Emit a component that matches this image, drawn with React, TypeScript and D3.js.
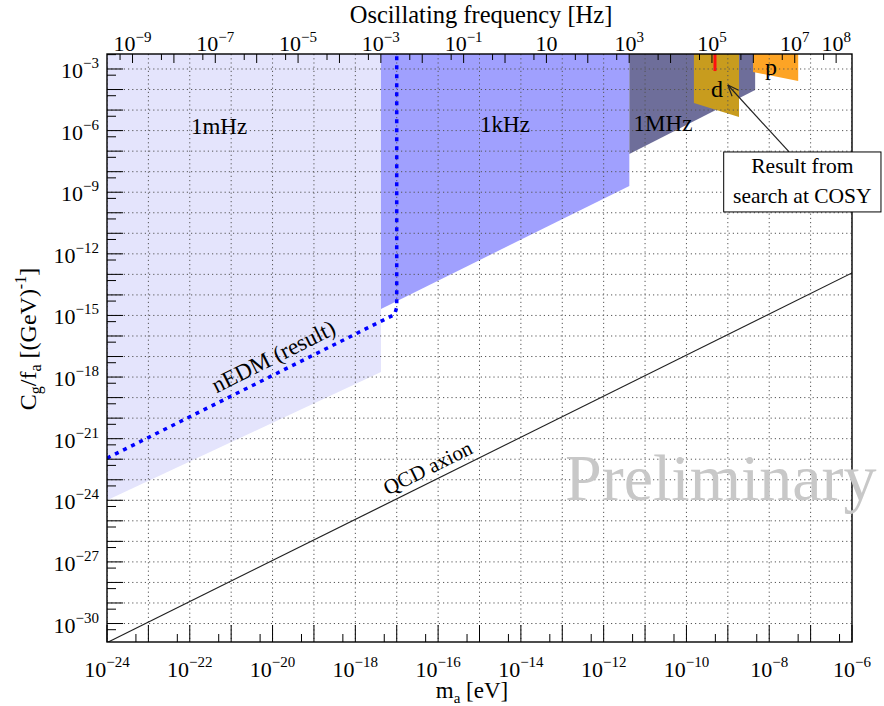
import React from "react";
import * as d3 from "d3";

const WIDTH = 884;
const HEIGHT = 706;
const frame = { left: 107, right: 852, top: 54, bottom: 642 };
const FONT = "'Liberation Serif', 'Times New Roman', Times, serif";

// every value below is log10: m_a in eV, C_g/f_a in 1/GeV
const massDomain = [-24, -6];
const couplingDomain = [-30.9, -2.27];
const evToHz = 2.418e14;

const massTickExps = [-24, -22, -20, -18, -16, -14, -12, -10, -8, -6];
const couplingTickExps = [-3, -6, -9, -12, -15, -18, -21, -24, -27, -30];
const freqTickExps = [-9, -7, -5, -3, -1, 1, 3, 5, 7, 8];

const TOP = couplingDomain[1];

const mHzRegion = [[-24, TOP], [-24, -24.0], [-17.38, -17.75], [-17.38, TOP]];
const kHzRegion = [[-17.38, TOP], [-17.38, -14.68], [-11.38, -8.7], [-11.38, TOP]];
const MHzRegion = [[-11.38, TOP], [-11.38, -7.14], [-8.34, -4.02], [-8.34, TOP]];
const deuteronRegion = [[-9.82, TOP], [-9.82, -4.66], [-8.73, -5.34], [-8.73, TOP]];
const protonRegion = [[-8.39, TOP], [-8.39, -3.15], [-7.3, -3.58], [-7.3, TOP]];
const cosyResult = [[-9.31, TOP], [-9.31, -3.1]];

const nedmLimit = [[-24, -21.95], [-17.05, -14.95], [-17.0, -14.6], [-17.0, TOP]];
const qcdAxion = [[-24.2, -31.13], [-6, -12.93]];

const sup = (e: number) => (e < 0 ? "\u2212" + -e : String(e));

export default function App() {
  const x = d3.scaleLog().domain(massDomain.map((v) => 10 ** v)).range([frame.left, frame.right]);
  const y = d3.scaleLog().domain(couplingDomain.map((v) => 10 ** v)).range([frame.bottom, frame.top]);
  const xf = d3
    .scaleLog()
    .domain(massDomain.map((v) => 10 ** v * evToHz))
    .range([frame.left, frame.right]);

  const pt = (d: number[]): [number, number] => [x(10 ** d[0]), y(10 ** d[1])];
  const line = d3.line<number[]>().x((d) => pt(d)[0]).y((d) => pt(d)[1]);
  const area = (pts: number[][]) => line(pts) + "Z";

  // ticks
  const decades = (a: number, b: number) => d3.range(Math.ceil(a), Math.floor(b) + 1);
  const inX = (v: number) => v >= frame.left - 0.5 && v <= frame.right + 0.5;
  const inY = (v: number) => v >= frame.top - 0.5 && v <= frame.bottom + 0.5;

  const xMajor = decades(massDomain[0], massDomain[1]).map((e) => x(10 ** e));
  const xMinor = decades(massDomain[0] - 1, massDomain[1]).map((e) => x(5 * 10 ** e)).filter(inX);
  const yMajor = decades(couplingDomain[0], couplingDomain[1]).map((e) => y(10 ** e));
  const yMinor = decades(couplingDomain[0] - 1, couplingDomain[1]).map((e) => y(5 * 10 ** e)).filter(inY);
  const fLo = Math.log10(10 ** massDomain[0] * evToHz);
  const fHi = Math.log10(10 ** massDomain[1] * evToHz);
  const fMajor = decades(fLo, fHi).map((e) => xf(10 ** e));
  const fMinor = decades(fLo - 1, fHi).map((e) => xf(5 * 10 ** e)).filter(inX);

  // rotated labels along lines
  const [q0, q1] = qcdAxion.map(pt);
  const qAngle = (Math.atan2(q1[1] - q0[1], q1[0] - q0[0]) * 180) / Math.PI;
  const qAt = (px: number): [number, number] => [px, q0[1] + ((px - q0[0]) * (q1[1] - q0[1])) / (q1[0] - q0[0])];
  const [n0, n1] = nedmLimit.slice(0, 2).map(pt);
  const nAngle = (Math.atan2(n1[1] - n0[1], n1[0] - n0[0]) * 180) / Math.PI;
  const nAt = (px: number): [number, number] => [px, n0[1] + ((px - n0[0]) * (n1[1] - n0[1])) / (n1[0] - n0[0])];
  const qLab = qAt(x(10 ** -16.1));
  const nLab = nAt(x(10 ** -19.8));

  // annotation (in data coords)
  const tip = pt([-9.0, -3.78]);
  const tail = pt([-7.52, -7.04]);
  const boxA = pt([-9.1, -7.04]);
  const boxB = pt([-5.3, -9.96]);
  const ang = Math.atan2(tail[1] - tip[1], tail[0] - tip[0]);
  const head = [ang - 0.38, ang + 0.38].map((a) => [tip[0] + 12 * Math.cos(a), tip[1] + 12 * Math.sin(a)]);

  return (
    <svg
      width={WIDTH}
      height={HEIGHT}
      style={{ position: "absolute", left: 0, top: 0, background: "#fff" }}
      fontFamily={FONT}
    >
      <defs>
        <clipPath id="frame">
          <rect x={frame.left} y={frame.top} width={frame.right - frame.left} height={frame.bottom - frame.top} />
        </clipPath>
      </defs>
      <rect width={WIDTH} height={HEIGHT} fill="#fff" />

      <g clipPath="url(#frame)">
        <path d={area(mHzRegion)} fill="#e4e4fc" />
        <path d={area(kHzRegion)} fill="#a0a0fe" />
        <path d={area(MHzRegion)} fill="#6e6e9a" />
        <path d={area(deuteronRegion)} fill="#c89c1e" />
        <path d={area(protonRegion)} fill="#fda425" />
        <path d={line(cosyResult) || ""} stroke="#ff1010" strokeWidth={3} />

        {/* grid */}
        {xMajor.map((v, i) => (
          <line key={"gx" + i} x1={v} x2={v} y1={frame.top} y2={frame.bottom} stroke="#555" strokeWidth={1} strokeDasharray="1.2,3" />
        ))}
        {yMajor.map((v, i) => (
          <line key={"gy" + i} x1={frame.left} x2={frame.right} y1={v} y2={v} stroke="#555" strokeWidth={1} strokeDasharray="1.2,3" />
        ))}

        <path d={line(qcdAxion) || ""} fill="none" stroke="#222" strokeWidth={1.2} />
        <path d={line(nedmLimit) || ""} fill="none" stroke="#0000ff" strokeWidth={3.5} strokeDasharray="4,5" />
      </g>

      {/* ticks */}
      {xMajor.map((v, i) => (
        <line key={"tx" + i} x1={v} x2={v} y1={frame.bottom} y2={frame.bottom - 17} stroke="#000" />
      ))}
      {xMinor.map((v, i) => (
        <line key={"tx5" + i} x1={v} x2={v} y1={frame.bottom} y2={frame.bottom - 8} stroke="#000" />
      ))}
      {yMajor.map((v, i) => (
        <line key={"ty" + i} x1={frame.left} x2={frame.left + 16} y1={v} y2={v} stroke="#000" />
      ))}
      {yMinor.map((v, i) => (
        <line key={"ty5" + i} x1={frame.left} x2={frame.left + 9} y1={v} y2={v} stroke="#000" />
      ))}
      {fMajor.map((v, i) => (
        <line key={"tf" + i} x1={v} x2={v} y1={frame.top} y2={frame.top + 9} stroke="#000" />
      ))}
      {fMinor.map((v, i) => (
        <line key={"tf5" + i} x1={v} x2={v} y1={frame.top} y2={frame.top + 6} stroke="#000" />
      ))}

      <rect
        x={frame.left}
        y={frame.top}
        width={frame.right - frame.left}
        height={frame.bottom - frame.top}
        fill="none"
        stroke="#000"
        strokeWidth={1.4}
      />

      {/* tick labels */}
      {massTickExps.map((e) => (
        <text key={"lx" + e} x={x(10 ** e)} y={677} textAnchor="middle" fontSize={22}>
          10<tspan dy={-10} fontSize={15}>{sup(e)}</tspan>
        </text>
      ))}
      {couplingTickExps.map((e) => (
        <text key={"ly" + e} x={99} y={y(10 ** e) + 9} textAnchor="end" fontSize={22}>
          10<tspan dy={-10} fontSize={15}>{sup(e)}</tspan>
        </text>
      ))}
      {freqTickExps.map((e) => (
        <text key={"lf" + e} x={xf(10 ** e)} y={51} textAnchor="middle" fontSize={22}>
          10{e !== 1 && <tspan dy={-9} fontSize={15}>{sup(e)}</tspan>}
        </text>
      ))}

      {/* axis titles */}
      <text x={481} y={23} textAnchor="middle" fontSize={24.5}>
        Oscillating frequency [Hz]
      </text>
      <text x={472} y={698} textAnchor="middle" fontSize={23}>
        m<tspan dy={5} fontSize={15}>a</tspan>
        <tspan dy={-5}> [eV]</tspan>
      </text>
      <text transform="translate(36,339) rotate(-90)" textAnchor="middle" fontSize={24}>
        C<tspan dy={5} fontSize={16}>g</tspan>
        <tspan dy={-5}>/f</tspan>
        <tspan dy={5} fontSize={16}>a</tspan>
        <tspan dy={-5}> [(GeV)</tspan>
        <tspan dy={-10} fontSize={16}>-1</tspan>
        <tspan dy={10}>]</tspan>
      </text>

      {/* region labels */}
      <text x={219} y={134} textAnchor="middle" fontSize={23}>1mHz</text>
      <text x={505} y={132} textAnchor="middle" fontSize={23}>1kHz</text>
      <text x={663} y={131} textAnchor="middle" fontSize={23}>1MHz</text>
      <text x={717} y={97} textAnchor="middle" fontSize={24}>d</text>
      <text x={771} y={75} textAnchor="middle" fontSize={24}>p</text>

      <text transform={`translate(${qLab[0]},${qLab[1]}) rotate(${qAngle})`} y={-7} textAnchor="middle" fontSize={21}>
        QCD axion
      </text>
      <text transform={`translate(${nLab[0]},${nLab[1]}) rotate(${nAngle})`} y={-9} textAnchor="middle" fontSize={23}>
        nEDM (result)
      </text>

      <text x={565} y={500} fontSize={66} fill="#c8c8c8">Preliminary</text>

      {/* COSY annotation */}
      <line x1={tail[0]} y1={tail[1]} x2={tip[0]} y2={tip[1]} stroke="#222" strokeWidth={1.2} />
      {head.map((h, i) => (
        <line key={"ah" + i} x1={tip[0]} y1={tip[1]} x2={h[0]} y2={h[1]} stroke="#222" strokeWidth={1.2} />
      ))}
      <rect x={boxA[0]} y={boxA[1]} width={boxB[0] - boxA[0]} height={boxB[1] - boxA[1]} fill="#fff" stroke="#000" />
      <text x={(boxA[0] + boxB[0]) / 2} y={boxA[1] + 21} textAnchor="middle" fontSize={21.5}>Result from</text>
      <text x={(boxA[0] + boxB[0]) / 2} y={boxA[1] + 51} textAnchor="middle" fontSize={21.5}>search at COSY</text>
    </svg>
  );
}
